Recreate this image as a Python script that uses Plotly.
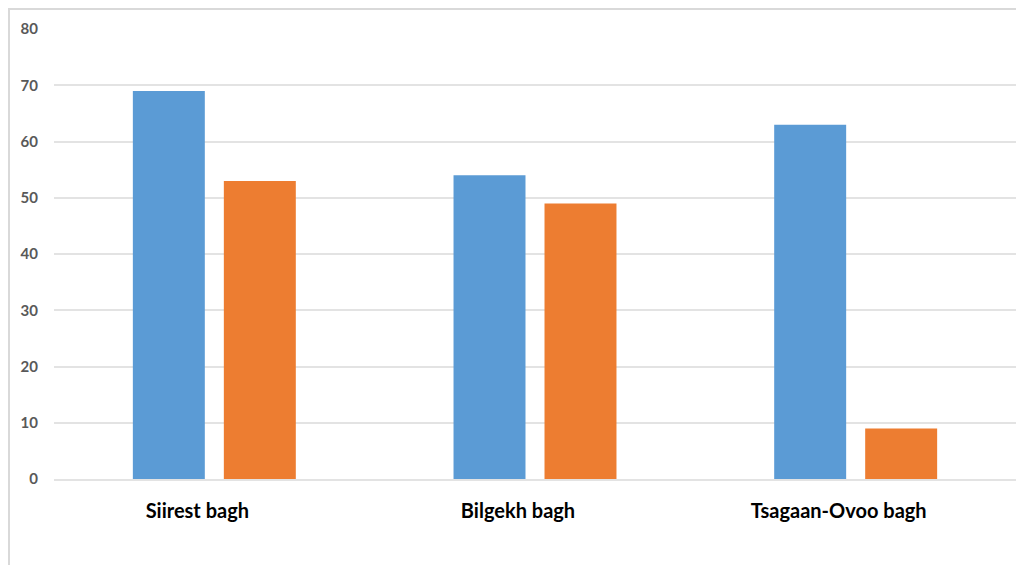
import plotly.graph_objects as go

categories = ["Siirest bagh", "Bilgekh bagh", "Tsagaan-Ovoo bagh"]
series_blue = [69, 54, 63]
series_orange = [53, 49, 9]
y_ticks = [0, 10, 20, 30, 40, 50, 60, 70, 80]

fig = go.Figure()
fig.add_trace(go.Bar(x=categories, y=series_blue, name="Series 1",
                     marker=dict(color="#5b9bd5", line=dict(width=0))))
fig.add_trace(go.Bar(x=categories, y=series_orange, name="Series 2",
                     marker=dict(color="#ed7d31", line=dict(width=0))))

# light frame like the original chart area border (top and left edges visible)
fig.add_shape(type="rect", xref="paper", yref="paper",
              x0=-45 / 962, y0=-0.3, x1=1.1, y1=470 / 450,
              line=dict(color="#d9d9d9", width=2), layer="below")

# page body has an 8px margin, so margins are shifted to compensate
fig.update_layout(
    width=1024, height=565,
    margin=dict(l=46, r=16, t=21, b=94),
    paper_bgcolor="white", plot_bgcolor="white",
    barmode="group", bargap=0.4325, bargroupgap=0.209,
    showlegend=False,
    font=dict(family="Lato, Noto Sans, sans-serif"),
)
fig.update_yaxes(range=[0, 80], tickvals=y_ticks,
                 showgrid=True, gridcolor="#e3e3e3", gridwidth=1.5,
                 zeroline=False, showline=False,
                 tickfont=dict(size=15, color="#595959", weight="bold"),
                 ticks="", ticklabelstandoff=15)
fig.update_xaxes(showline=True, linecolor="#e3e3e3", linewidth=1.5,
                 ticks="", tickfont=dict(size=20, color="black", weight="bold"),
                 ticklabelstandoff=13, ticklabelshift=-17)

fig.write_html("out.html")
